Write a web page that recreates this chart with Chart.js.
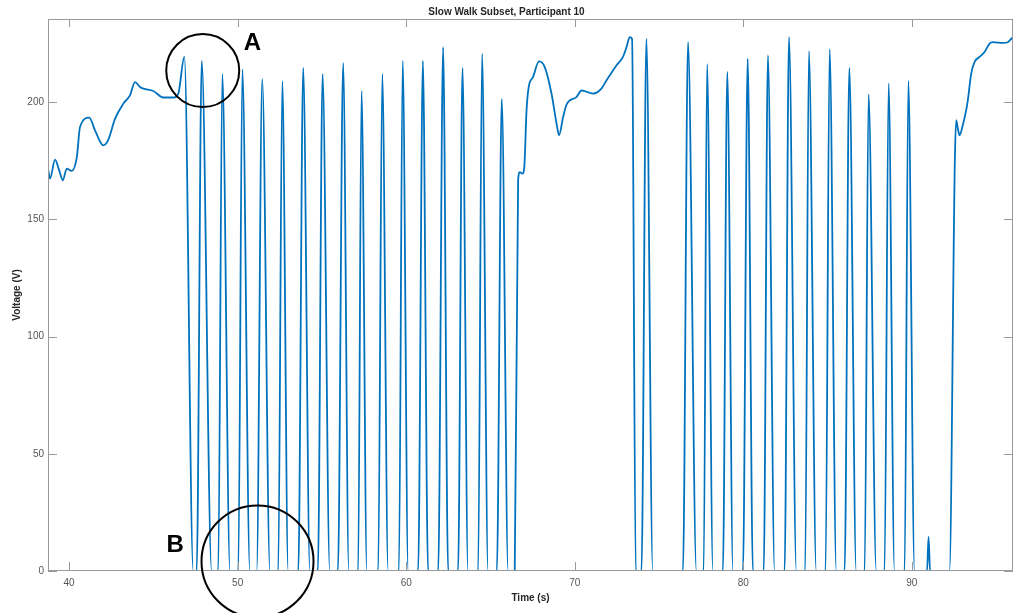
<!DOCTYPE html>
<html>
<head>
<meta charset="utf-8">
<script src="https://cdn.jsdelivr.net/npm/chart.js@4.4.0/dist/chart.umd.min.js"></script>
<style>
  html, body { margin: 0; padding: 0; background: #fff; }
  #wrap { width: 1013px; height: 613px; }
</style>
</head>
<body>
<div id="wrap"><canvas id="chart1"></canvas></div>
<script>
// standing before the walk (time s, voltage V)
let stand1T = [38.77, 38.87, 39.17, 39.41, 39.63, 39.86, 40.16, 40.46, 40.65, 41.20, 41.54, 42.03, 42.31, 42.73, 43.22, 43.62, 43.91, 44.21, 44.41, 45.00, 45.59, 46.18, 46.48];
let stand1V = [171, 167.4, 175.5, 171, 166.7, 171.7, 170.7, 176.6, 189.4, 193.4, 188, 181.6, 183.7, 193, 199.4, 203, 208.6, 206.5, 205.8, 204.8, 202, 202, 203.7];

// first walking bout: pulse foot (rise), peak, foot (fall)
let walk1RiseT = [null, 47.57, 48.85, 50.04, 51.13, 52.41, 53.60, 54.76, 55.95, 57.15, 58.34, 59.57, 60.71, 61.90, 63.08, 64.27, 65.38];
let walk1PeakT = [46.84, 47.87, 49.09, 50.28, 51.46, 52.65, 53.89, 55.04, 56.26, 57.35, 58.58, 59.79, 60.99, 62.19, 63.34, 64.50, 65.67];
let walk1PeakV = [219.3, 217.6, 212, 214, 209.8, 209, 214.6, 212, 216.7, 204.8, 212, 217.6, 217.6, 223.5, 214.6, 220.7, 201.4];
let walk1FallT = [47.37, 48.46, 49.55, 50.73, 51.92, 53.00, 54.29, 55.47, 56.60, 57.67, 58.93, 60.12, 61.30, 62.49, 63.67, 64.86, 66.05];

// pause in the middle
let stand2T = [66.44, 66.64, 66.74, 66.90, 67.00, 67.14, 67.27, 67.53, 67.88, 68.22, 68.62, 68.92, 69.07, 69.31, 69.54, 70.10, 70.40, 71.09, 71.58, 71.88, 72.47, 72.86, 73.07, 73.26, 73.40, 73.62];
let stand2V = [0, 166.6, 170.2, 169.5, 171.7, 196.5, 206.5, 210.8, 217.4, 215, 203.7, 190.9, 185.9, 193.7, 199.4, 202.2, 205, 203.7, 205.8, 209.3, 215.7, 219.3, 223.5, 227.8, 227, 0];

// second walking bout (last one is the small spike)
let walk2RiseT = [73.96, 76.42, 77.65, 78.79, 79.98, 81.21, 82.45, 83.67, 84.88, 86.01, 87.20, 88.38, 89.57, 90.90];
let walk2PeakT = [74.25, 76.72, 77.85, 79.05, 80.26, 81.46, 82.71, 83.89, 85.12, 86.29, 87.43, 88.62, 89.79, 90.99];
let walk2PeakV = [227, 225.6, 216.2, 212.9, 218.6, 220, 227.8, 221.8, 222.6, 214.6, 203.4, 208, 209.1, 14.5];
let walk2FallT = [74.63, 77.22, 78.20, 79.39, 80.57, 81.86, 83.15, 84.33, 85.52, 86.70, 87.89, 88.97, 90.16, 91.08];

// standing after the walk
let stand3T = [92.23, 92.55, 92.63, 92.73, 92.83, 93.02, 93.22, 93.32, 93.52, 93.72, 94.01, 94.31, 94.61, 94.80, 95.40, 95.69, 95.95];
let stand3V = [0, 175, 192.3, 188.7, 185.9, 190.2, 196.5, 200.8, 212.2, 217.2, 219.3, 221.4, 225, 225.6, 225.3, 225.6, 227.5];

let xTicks = [40, 50, 60, 70, 80, 90];
let yTicks = [0, 50, 100, 150, 200];

let points = [];
function addLine(ts, vs) {
  for (let i = 0; i < ts.length; i++) points.push({x: ts[i], y: vs[i]});
}
function addPulses(rise, peak, peakV, fall) {
  for (let i = 0; i < peak.length; i++) {
    if (rise[i] !== null) points.push({x: rise[i], y: 0});
    points.push({x: peak[i], y: peakV[i]});
    points.push({x: fall[i], y: 0});
  }
}
addLine(stand1T, stand1V);
addPulses(walk1RiseT, walk1PeakT, walk1PeakV, walk1FallT);
addLine(stand2T, stand2V);
addPulses(walk2RiseT, walk2PeakT, walk2PeakV, walk2FallT);
addLine(stand3T, stand3V);

const FONT = 'Liberation Sans, Arial, Helvetica, sans-serif';

// MATLAB style box with inward ticks
let boxPlugin = {
  id: 'box',
  afterDatasetsDraw(chart) {
    let c = chart.ctx, a = chart.chartArea;
    let sx = chart.scales.x, sy = chart.scales.y;
    c.save();
    c.strokeStyle = '#9a9a9a';
    c.lineWidth = 1;
    c.strokeRect(a.left + 0.5, a.top + 0.5, a.right - a.left - 1, a.bottom - a.top - 1);
    c.beginPath();
    xTicks.forEach(v => {
      let px = Math.round(sx.getPixelForValue(v)) + 0.5;
      c.moveTo(px, a.bottom); c.lineTo(px, a.bottom - 9);
      c.moveTo(px, a.top); c.lineTo(px, a.top + 8);
    });
    yTicks.forEach(v => {
      let py = Math.round(sy.getPixelForValue(v)) + 0.5;
      c.moveTo(a.left, py); c.lineTo(a.left + 9, py);
      c.moveTo(a.right, py); c.lineTo(a.right - 9, py);
    });
    c.stroke();
    c.restore();
  }
};

// the two hand-drawn circles with labels
let notePlugin = {
  id: 'notes',
  afterDraw(chart) {
    let c = chart.ctx;
    let sx = chart.scales.x, sy = chart.scales.y;
    c.save();
    c.strokeStyle = '#000';
    c.lineWidth = 2;
    c.beginPath();
    c.arc(sx.getPixelForValue(47.93), sy.getPixelForValue(213.5), 36.5, 0, Math.PI * 2);
    c.stroke();
    c.beginPath();
    c.arc(sx.getPixelForValue(51.18), sy.getPixelForValue(4.1), 56, 0, Math.PI * 2);
    c.stroke();
    c.fillStyle = '#000';
    c.font = 'bold 24px ' + FONT;
    c.textAlign = 'center';
    c.textBaseline = 'middle';
    c.fillText('A', sx.getPixelForValue(50.88), sy.getPixelForValue(225.1));
    c.fillText('B', sx.getPixelForValue(46.30), sy.getPixelForValue(11.0));
    c.restore();
  }
};

let ctx1 = document.getElementById('chart1');
let chart1 = new Chart(ctx1, {
  type: 'line',
  data: {
    datasets: [{
      label: 'Voltage',
      data: points,
      borderColor: '#0072BD',
      borderWidth: 1.8,
      pointRadius: 0,
      cubicInterpolationMode: 'monotone',
      fill: false
    }]
  },
  options: {
    responsive: true,
    maintainAspectRatio: false,
    animation: false,
    layout: { padding: 0 },
    plugins: {
      legend: { display: false },
      tooltip: { enabled: false },
      title: {
        display: true,
        text: 'Slow Walk Subset, Participant 10',
        color: '#262626',
        font: { family: FONT, size: 10, weight: 'bold' },
        padding: { top: 6, bottom: 1 }
      }
    },
    scales: {
      x: {
        type: 'linear',
        min: 38.75,
        max: 96,
        afterFit: s => { s.height = 42; },
        grid: { display: false, drawTicks: false },
        border: { display: false },
        ticks: {
          stepSize: 10, includeBounds: false, padding: 6, maxRotation: 0,
          color: '#555', font: { family: FONT, size: 10 }
        },
        title: {
          display: true, text: 'Time (s)', color: '#262626',
          font: { family: FONT, size: 10, weight: 'bold' },
          padding: { top: 0, bottom: 9 }
        }
      },
      y: {
        min: 0,
        max: 235.5,
        afterFit: s => { s.width = 48; },
        grid: { display: false, drawTicks: false },
        border: { display: false },
        ticks: {
          stepSize: 50, includeBounds: false, padding: 4,
          color: '#555', font: { family: FONT, size: 10 }
        },
        title: {
          display: true, text: 'Voltage (V)', color: '#262626',
          font: { family: FONT, size: 10, weight: 'bold' },
          padding: { top: 11, bottom: 0 }
        }
      }
    }
  },
  plugins: [boxPlugin, notePlugin]
});
</script>
</body>
</html>
